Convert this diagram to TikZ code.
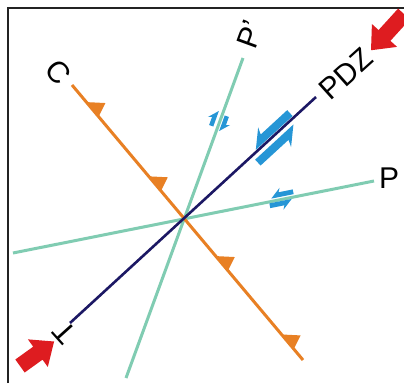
\documentclass[tikz,border=0pt]{standalone}
\usepackage{fontspec}
\setmainfont{Liberation Sans}
\definecolor{faultorange}{RGB}{232,128,36}
\definecolor{pdznavy}{RGB}{28,24,100}
\definecolor{riedel}{RGB}{128,204,178}
\definecolor{slipblue}{RGB}{38,150,214}
\definecolor{stressred}{RGB}{222,28,32}
\definecolor{framegray}{RGB}{35,35,35}
\newcommand\slipharpoon[6]{%
  \begin{scope}[shift={(#1,#2)},rotate=#3,yscale=#5,scale=#6]
    \fill[slipblue] (-#4/2,-4) -- (#4/2,-4) -- (#4/2-17,11) -- (#4/2-14,4) -- (-#4/2,4) -- cycle;
  \end{scope}}
\newcommand\stressarrow[4]{%
  \begin{scope}[shift={(#1,#2)},rotate=#3]
    \fill[stressred] (0,-8) -- (#4-20,-8) -- (#4-20,-17) -- (#4,0) -- (#4-20,17) -- (#4-20,8) -- (0,8) -- cycle;
  \end{scope}}
\begin{document}
\begin{tikzpicture}[x=1pt,y=1pt,
  lbl/.style={font=\fontsize{30}{30}\selectfont, inner sep=0pt, text=black},
  riedelline/.style={riedel, line width=3pt},
  thrustline/.style={faultorange, line width=3pt},
  pdzline/.style={pdznavy, line width=2.6pt},
  tooth/.pic={\fill[faultorange] (-10,0) -- (9,0) -- (3,14) -- cycle;}]
\useasboundingbox (0,0) rectangle (404,-383);
\fill[white] (0,0) rectangle (404,-383);
\draw[framegray, line width=2pt] (7.5,-383) -- (7.5,-7.5) -- (404,-7.5);
% end points
\coordinate (O) at (183,-218);
\coordinate (C1) at (72,-85);
\coordinate (C2) at (303,-360);
\coordinate (T1) at (70,-323);
\coordinate (Z1) at (316,-97);
\coordinate (Q1) at (243,-58);
\coordinate (Q2) at (126,-378);
\coordinate (P1) at (13,-253);
\coordinate (P2) at (374,-181);
% lines
\draw[riedelline] (Q2) -- (Q1);
\draw[riedelline] (P1) -- (P2);
\draw[thrustline] (C1) -- (C2);
\path (C1) -- (C2)
  pic[pos=0.09,sloped]{tooth}
  pic[pos=0.36,sloped]{tooth}
  pic[pos=0.65,sloped]{tooth}
  pic[pos=0.935,sloped]{tooth};
\draw[pdzline] (T1) -- (Z1);
% labels
\node[lbl, rotate=-50] (Clab) at (58,-72) {C};
\node[lbl, rotate=42] (PDZlab) at (346,-74) {PDZ};
\node[lbl, rotate=70] (Qlab) at (250,-34) {P'};
\node[lbl, rotate=132] (Tlab) at (65,-333) {T};
\node[lbl] (Plab) at (389,-178) {P};
% slip arrows
\slipharpoon{271.5}{-130}{222.6}{50}{-1}{1}
\slipharpoon{277}{-145}{42.6}{52}{-1}{1}
\slipharpoon{214}{-118}{70.1}{30}{1}{0.55}
\slipharpoon{224}{-124}{250.1}{30}{1}{0.55}
\slipharpoon{282}{-194}{191.3}{38}{-1}{0.6}
\slipharpoon{281}{-203.5}{11.3}{38}{-1}{0.6}
% stress arrows
\stressarrow{404}{-14}{227.7}{49}
\stressarrow{20}{-366}{35.7}{42}
\end{tikzpicture}
\end{document}
